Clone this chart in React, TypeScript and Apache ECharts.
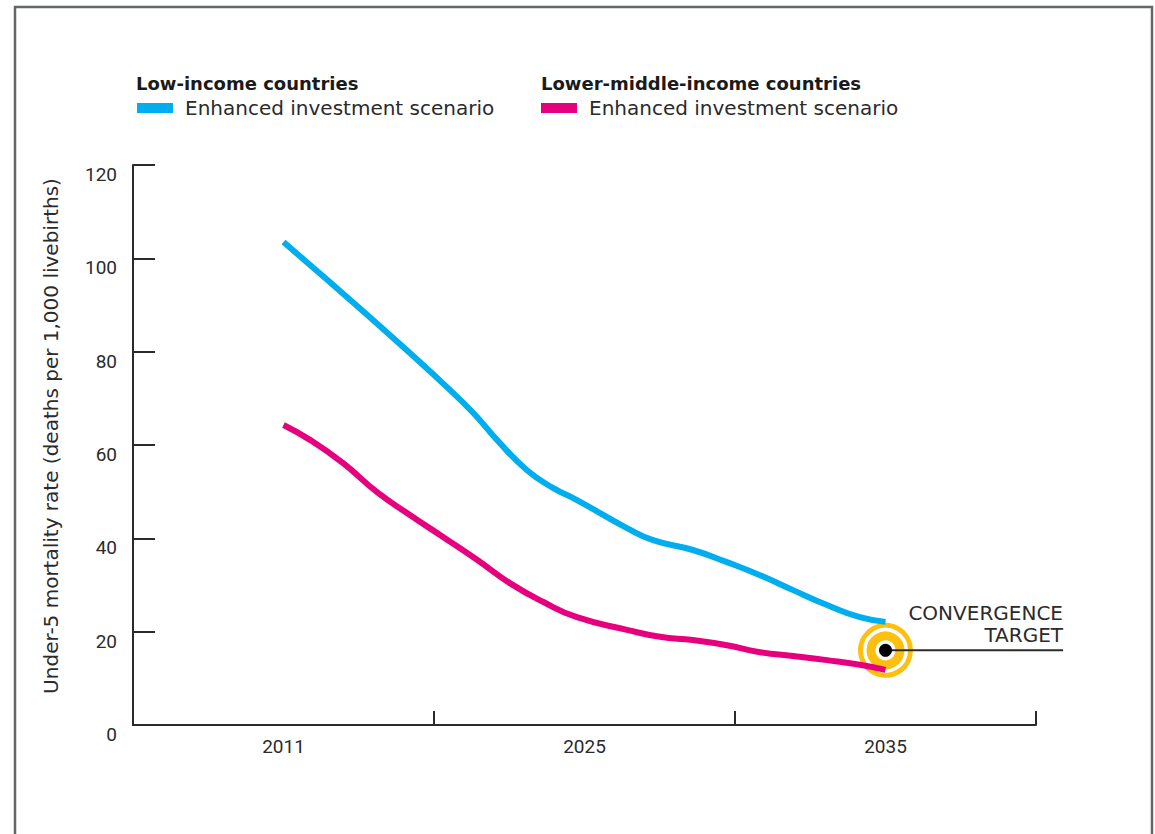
import React, { useEffect, useRef } from "react";
import * as echarts from "echarts";

// Category axis labels
const years = ["2011", "2025", "2035"];
const yTicks = { min: 0, max: 120, interval: 20 };

// Series positions are fractional category indices (2011 = 0, 2025 = 1, 2035 = 2)
const lowIncomeX = [0.0, 0.145, 0.287, 0.42, 0.543, 0.63, 0.719, 0.809, 0.895, 0.975, 1.141, 1.228, 1.36, 1.473, 1.583, 1.693, 1.806, 1.915, 2.0];
const lowIncomeY = [103.5, 95.4, 87.4, 79.7, 72.4, 66.9, 60.4, 54.6, 50.8, 48.2, 42.2, 39.6, 37.5, 34.9, 32.1, 28.9, 25.7, 23.1, 22.1];

const lowerMiddleX = [0.0, 0.088, 0.198, 0.311, 0.42, 0.53, 0.643, 0.752, 0.862, 0.975, 1.141, 1.251, 1.36, 1.473, 1.583, 1.693, 1.806, 1.915, 2.0];
const lowerMiddleY = [64.3, 61.1, 56.1, 49.9, 45.0, 40.3, 35.4, 30.4, 26.4, 23.1, 20.4, 18.9, 18.2, 17.1, 15.6, 14.8, 13.9, 12.9, 11.8];

const target = [2.0, 16];
const targetLineEnd = [2.59, 16];

const SERIES_A = "Low-income countries – Enhanced investment scenario";
const SERIES_B = "Lower-middle-income countries – Enhanced investment scenario";
const LEGEND_LABEL = "Enhanced investment scenario";

const FONT = "Roboto, 'Noto Sans', sans-serif";
const WIDE = "'DejaVu Sans', 'Noto Sans', sans-serif";
const BLUE = "#00AEEF";
const PINK = "#E6007E";
const YELLOW = "#FDC010";
const DARK = "#2b2b2b";

export default function App() {
  const ref = useRef<HTMLDivElement>(null);

  useEffect(() => {
    document.body.style.margin = "0";
    const chart = echarts.init(ref.current!, null, { renderer: "svg" });
    const zip = (xs: number[], ys: number[]) => xs.map((x, i) => [x, ys[i]]);

    const legendBase = {
      top: 98,
      padding: 0,
      icon: "rect",
      itemWidth: 36,
      itemHeight: 10,
      selectedMode: false,
      formatter: () => LEGEND_LABEL,
      textStyle: { fontSize: 20, color: DARK, fontFamily: WIDE, padding: [0, 0, 0, 7] },
    };

    chart.setOption({
      animation: false,
      backgroundColor: "#ffffff",
      textStyle: { fontFamily: FONT },
      grid: { left: 133, top: 165, width: 903, height: 560, containLabel: false },
      legend: [
        { ...legendBase, data: [SERIES_A], left: 137 },
        { ...legendBase, data: [SERIES_B], left: 541 },
      ],
      xAxis: [
        {
          type: "category",
          data: years,
          boundaryGap: true,
          axisLine: { onZero: false, lineStyle: { color: DARK, width: 2 } },
          axisTick: { show: true, interval: 0, inside: true, length: 14, lineStyle: { color: DARK, width: 2 } },
          axisLabel: { fontSize: 19, color: DARK, margin: 12, fontFamily: FONT },
          splitLine: { show: false },
        },
        {
          type: "value",
          min: -0.5,
          max: 2.5,
          show: false,
        },
      ],
      yAxis: {
        type: "value",
        min: yTicks.min,
        max: yTicks.max,
        interval: yTicks.interval,
        name: "Under-5 mortality rate (deaths per 1,000 livebirths)",
        nameLocation: "middle",
        nameRotate: 90,
        nameGap: 72,
        nameTextStyle: { fontSize: 20, color: DARK, fontFamily: WIDE, padding: [0, 0, 0, 18] },
        axisLine: { show: true, onZero: false, lineStyle: { color: DARK, width: 2 } },
        axisTick: { show: true, inside: true, length: 22, lineStyle: { color: DARK, width: 2 } },
        axisLabel: { fontSize: 19, color: DARK, margin: 16, verticalAlign: "top", fontFamily: FONT },
        splitLine: { show: false },
      },
      series: [
        {
          name: "target-outer",
          type: "scatter",
          xAxisIndex: 1,
          z: 1,
          symbol: "circle",
          symbolSize: 50,
          data: [target],
          itemStyle: { color: "#ffffff", borderColor: YELLOW, borderWidth: 5, opacity: 1 },
          silent: true,
        },
        {
          name: "target-inner",
          type: "scatter",
          xAxisIndex: 1,
          z: 1,
          symbol: "circle",
          symbolSize: 29,
          data: [target],
          itemStyle: { color: "#ffffff", borderColor: YELLOW, borderWidth: 9, opacity: 1 },
          silent: true,
        },
        {
          name: SERIES_A,
          type: "line",
          xAxisIndex: 1,
          z: 2,
          data: zip(lowIncomeX, lowIncomeY),
          smooth: 0.5,
          showSymbol: false,
          color: BLUE,
          lineStyle: { color: BLUE, width: 6, cap: "butt" },
        },
        {
          name: SERIES_B,
          type: "line",
          xAxisIndex: 1,
          z: 2,
          data: zip(lowerMiddleX, lowerMiddleY),
          smooth: 0.5,
          showSymbol: false,
          color: PINK,
          lineStyle: { color: PINK, width: 6, cap: "butt" },
        },
        {
          name: "target-dot",
          type: "scatter",
          xAxisIndex: 1,
          z: 4,
          symbol: "circle",
          symbolSize: 13,
          data: [target],
          itemStyle: { color: "#000000", opacity: 1 },
          silent: true,
        },
      ],
      graphic: [
        {
          id: "frame",
          type: "rect",
          silent: true,
          shape: { x: 15, y: 7, width: 1137, height: 900 },
          style: { fill: "none", stroke: "#636769", lineWidth: 2.5 },
        },
        {
          id: "head-a",
          type: "text",
          x: 136,
          y: 83,
          style: {
            text: "Low-income countries",
            font: `bold 18px ${WIDE}`,
            fill: "#1a1a1a",
            verticalAlign: "middle",
          },
        },
        {
          id: "head-b",
          type: "text",
          x: 541,
          y: 83,
          style: {
            text: "Lower-middle-income countries",
            font: `bold 18px ${WIDE}`,
            fill: "#1a1a1a",
            verticalAlign: "middle",
          },
        },
        {
          id: "target-text",
          type: "text",
          x: 1063,
          y: 602,
          style: {
            text: "CONVERGENCE\nTARGET",
            font: `20px ${WIDE}`,
            fill: DARK,
            align: "right",
            verticalAlign: "top",
            lineHeight: 22,
          },
        },
      ],
    });

    const p1 = chart.convertToPixel({ xAxisIndex: 1, yAxisIndex: 0 }, target) as number[];
    const p2 = chart.convertToPixel({ xAxisIndex: 1, yAxisIndex: 0 }, targetLineEnd) as number[];
    if (p1 && p2) {
      chart.setOption({
        graphic: [
          {
            id: "target-connector",
            type: "line",
            z: 3,
            silent: true,
            shape: { x1: p1[0], y1: p1[1], x2: p2[0], y2: p2[1] },
            style: { stroke: DARK, lineWidth: 2 },
          },
        ],
      });
    }

    return () => chart.dispose();
  }, []);

  return <div ref={ref} style={{ width: 1155, height: 834 }} />;
}
